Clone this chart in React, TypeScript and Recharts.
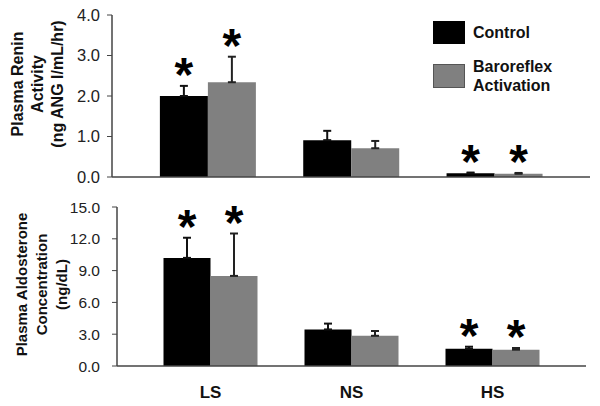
import { BarChart, Bar, XAxis, YAxis, ErrorBar, LabelList } from 'recharts';

const FONT = '"Liberation Sans", Arial, sans-serif';

const GROUPS = ['LS', 'NS', 'HS'];
const SIGNIFICANT = [true, false, true];

const RENIN_CONTROL = [2.0, 0.91, 0.09];
const RENIN_CONTROL_ERR = [0.25, 0.23, 0.02];
const RENIN_BARO = [2.34, 0.71, 0.08];
const RENIN_BARO_ERR = [0.63, 0.18, 0.02];
const RENIN_TICKS = [0, 1, 2, 3, 4];

const ALDO_CONTROL = [10.2, 3.45, 1.63];
const ALDO_CONTROL_ERR = [1.9, 0.55, 0.19];
const ALDO_BARO = [8.5, 2.85, 1.54];
const ALDO_BARO_ERR = [4.0, 0.45, 0.16];
const ALDO_TICKS = [0, 3, 6, 9, 12, 15];

// tick marks along the x axis, one per bar width
const BAR_EDGES = [0, 1, 2, 3, 4, 5, 6, 7, 8, 9, 10];

const CONTROL_COLOR = '#000000';
const BARO_COLOR = '#808080';
const AXIS_COLOR = '#444';

const buildRows = (control: number[], controlErr: number[], baro: number[], baroErr: number[]) =>
  GROUPS.map((g, i) => ({
    group: g,
    control: control[i],
    controlErr: [0, controlErr[i]],
    baro: baro[i],
    baroErr: [0, baroErr[i]],
    sig: SIGNIFICANT[i],
  }));

const reninRows = buildRows(RENIN_CONTROL, RENIN_CONTROL_ERR, RENIN_BARO, RENIN_BARO_ERR);
const aldoRows = buildRows(ALDO_CONTROL, ALDO_CONTROL_ERR, ALDO_BARO, ALDO_BARO_ERR);

const STAR_SIZE = 48;

// asterisk sits a little above the top of the error bar
function starContent(rows: any[], errKey: string) {
  return (props: any) => {
    const vb = props.viewBox ?? props;
    const { x, y, width, height } = vb;
    const row = rows[props.index];
    if (!row || !row.sig) return null;
    const value = row[errKey === 'controlErr' ? 'control' : 'baro'];
    const perUnit = height / value;
    const errTop = y - row[errKey][1] * perUnit;
    const cy = errTop - 21;
    return (
      <text
        x={x + width / 2}
        y={cy + STAR_SIZE * 0.55}
        textAnchor="middle"
        fontSize={STAR_SIZE}
        fontWeight="bold"
        fontFamily={FONT}
        fill="#000"
      >
        *
      </text>
    );
  };
}

function axisTitle(lines: string[], baseX: number, shift: number, size: number) {
  return (props: any) => {
    const vb = props.viewBox;
    const cy = vb.y + vb.height / 2 + shift;
    return (
      <text
        transform={`rotate(-90 ${baseX} ${cy})`}
        x={baseX}
        y={cy}
        textAnchor="middle"
        fontSize={size}
        fontWeight="bold"
        fontFamily={FONT}
        fill="#111"
      >
        {lines.map((l, i) => (
          <tspan key={l} x={baseX} dy={i === 0 ? 0 : 20}>
            {l}
          </tspan>
        ))}
      </text>
    );
  };
}

function Legend() {
  const text = { fontFamily: FONT, fontWeight: 'bold' as const, fontSize: 16, color: '#111', lineHeight: '19px' };
  return (
    <div style={{ position: 'absolute', left: 433, top: 21 }}>
      <div style={{ display: 'flex', alignItems: 'center', gap: 8 }}>
        <div style={{ width: 32, height: 23, background: CONTROL_COLOR }} />
        <div style={text}>Control</div>
      </div>
      <div style={{ display: 'flex', alignItems: 'center', gap: 8, marginTop: 13 }}>
        <div style={{ width: 30, height: 22, background: BARO_COLOR, border: '1px solid #555' }} />
        <div style={text}>
          Baroreflex
          <br />
          Activation
        </div>
      </div>
    </div>
  );
}

export default function App() {
  return (
    <div style={{ position: 'absolute', left: 0, top: 0, width: 600, height: 406, background: 'white' }}>
      <div style={{ position: 'absolute', left: 0, top: 0 }}>
        <BarChart
          width={600}
          height={190}
          data={reninRows}
          margin={{ top: 15, right: 10, bottom: 0, left: 0 }}
          barCategoryGap="16.667%"
          barGap={0}
        >
          <XAxis
            xAxisId="edges"
            type="number"
            domain={[0, 10]}
            ticks={BAR_EDGES}
            allowDataOverflow
            height={0}
            axisLine={false}
            tickSize={5}
            tickLine={{ stroke: AXIS_COLOR }}
            tickFormatter={() => ''}
          />
          <XAxis
            xAxisId="cat"
            dataKey="group"
            height={13}
            padding={{ left: 24, right: 24 }}
            tick={false}
            tickLine={false}
            axisLine={{ stroke: AXIS_COLOR, strokeWidth: 1.5 }}
          />
          <YAxis
            width={112}
            domain={[0, 4]}
            ticks={RENIN_TICKS}
            tickFormatter={(v: number) => v.toFixed(1)}
            tick={{ fontSize: 16.5, fill: '#222', fontFamily: FONT }}
            tickSize={5}
            tickMargin={7}
            tickLine={{ stroke: AXIS_COLOR }}
            axisLine={{ stroke: AXIS_COLOR, strokeWidth: 1.5 }}
            label={{ content: axisTitle(['Plasma Renin', 'Activity', '(ng ANG I/mL/hr)'], 23, -12, 16) }}
          />
          <Bar xAxisId="cat" dataKey="control" fill={CONTROL_COLOR} isAnimationActive={false}>
            <ErrorBar dataKey="controlErr" direction="y" width={4} stroke="#111" strokeWidth={2} />
            <LabelList dataKey="control" content={starContent(reninRows, 'controlErr')} />
          </Bar>
          <Bar xAxisId="cat" dataKey="baro" fill={BARO_COLOR} isAnimationActive={false}>
            <ErrorBar dataKey="baroErr" direction="y" width={4} stroke="#222" strokeWidth={2} />
            <LabelList dataKey="baro" content={starContent(reninRows, 'baroErr')} />
          </Bar>
        </BarChart>
      </div>
      <div style={{ position: 'absolute', left: 0, top: 190 }}>
        <BarChart
          width={600}
          height={216}
          data={aldoRows}
          margin={{ top: 17, right: 14, bottom: 0, left: 0 }}
          barCategoryGap="16.667%"
          barGap={0}
        >
          <XAxis
            xAxisId="edges"
            type="number"
            domain={[0, 10]}
            ticks={BAR_EDGES}
            allowDataOverflow
            height={0}
            axisLine={false}
            tickSize={5}
            tickLine={{ stroke: AXIS_COLOR }}
            tickFormatter={() => ''}
          />
          <XAxis
            xAxisId="cat"
            dataKey="group"
            height={40}
            padding={{ left: 23, right: 23 }}
            tick={{ fontSize: 17, fontWeight: 'bold', fill: '#111', fontFamily: FONT }}
            tickLine={false}
            tickMargin={14}
            axisLine={{ stroke: AXIS_COLOR, strokeWidth: 1.5 }}
          />
          <YAxis
            width={117}
            domain={[0, 15]}
            ticks={ALDO_TICKS}
            tickFormatter={(v: number) => v.toFixed(1)}
            tick={{ fontSize: 15.5, fill: '#222', fontFamily: FONT }}
            tickSize={5}
            tickMargin={12}
            tickLine={{ stroke: AXIS_COLOR }}
            axisLine={{ stroke: AXIS_COLOR, strokeWidth: 1.5 }}
            label={{ content: axisTitle(['Plasma Aldosterone', 'Concentration', '(ng/dL)'], 27, -2, 15) }}
          />
          <Bar xAxisId="cat" dataKey="control" fill={CONTROL_COLOR} isAnimationActive={false}>
            <ErrorBar dataKey="controlErr" direction="y" width={4} stroke="#111" strokeWidth={2} />
            <LabelList dataKey="control" content={starContent(aldoRows, 'controlErr')} />
          </Bar>
          <Bar xAxisId="cat" dataKey="baro" fill={BARO_COLOR} isAnimationActive={false}>
            <ErrorBar dataKey="baroErr" direction="y" width={4} stroke="#222" strokeWidth={2} />
            <LabelList dataKey="baro" content={starContent(aldoRows, 'baroErr')} />
          </Bar>
        </BarChart>
      </div>
      <Legend />
    </div>
  );
}
